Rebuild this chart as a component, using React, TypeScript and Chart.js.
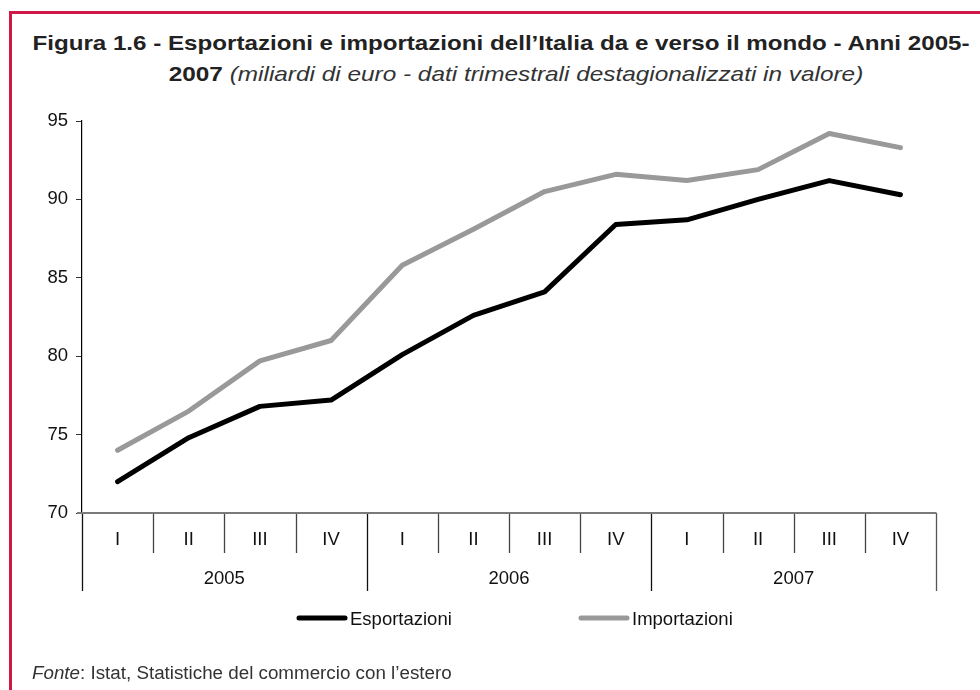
import React, { useEffect, useRef } from "react";
import { Chart, registerables } from "chart.js";

Chart.register(...registerables);

// ---- Data ----
const quarters = ["I", "II", "III", "IV", "I", "II", "III", "IV", "I", "II", "III", "IV"];
const years = ["2005", "2006", "2007"];
const quartersPerYear = 4;
const esportazioni = [72.0, 74.8, 76.8, 77.2, 80.1, 82.6, 84.1, 88.4, 88.7, 90.0, 91.2, 90.3];
const importazioni = [74.0, 76.5, 79.7, 81.0, 85.8, 88.1, 90.5, 91.6, 91.2, 91.9, 94.2, 93.3];
const seriesNames = ["Esportazioni", "Importazioni"];
const seriesColors = ["#000000", "#999999"];
const yMin = 70;
const yMax = 95;
const yStep = 5;

const FONT = "'Liberation Sans', Arial, Helvetica, sans-serif";
const LABEL_SIZE = 18.5;

const axisPlugin = {
  id: "multiLevelAxisAndLegend",
  afterDraw(chart: any) {
    const ctx = chart.ctx as CanvasRenderingContext2D;
    const x = chart.scales.x;
    const y = chart.scales.y;
    const y0 = y.getPixelForValue(yMin);
    const qBottom = y0 + 40;
    const yBottom = y0 + 78;
    const n = quarters.length;
    ctx.save();
    // boundaries
    for (let i = 0; i <= n; i++) {
      const bx = Math.round(x.getPixelForValue(i - 0.5)) + 0.5;
      const isYear = i % quartersPerYear === 0;
      ctx.beginPath();
      ctx.strokeStyle = isYear ? (i === n ? "#555" : "#111") : "#444";
      ctx.lineWidth = 1.3;
      ctx.moveTo(bx, y0);
      ctx.lineTo(bx, isYear ? yBottom : qBottom);
      ctx.stroke();
    }
    // x axis line
    ctx.beginPath();
    ctx.strokeStyle = "#7a7a7a";
    ctx.lineWidth = 2;
    ctx.moveTo(x.left - 5, y0);
    ctx.lineTo(x.right + 0.5, y0);
    ctx.stroke();
    // quarter labels
    ctx.fillStyle = "#111";
    ctx.font = `${LABEL_SIZE}px ${FONT}`;
    ctx.textAlign = "center";
    ctx.textBaseline = "middle";
    quarters.forEach((q, i) => {
      ctx.fillText(q, x.getPixelForValue(i), y0 + 27);
    });
    years.forEach((yr, j) => {
      const cx = x.getPixelForValue(j * quartersPerYear + (quartersPerYear - 1) / 2);
      ctx.fillText(yr, cx, y0 + 66);
    });
    // legend
    const legendY = y0 + 105;
    const legendX = [297, 579];
    chart.data.datasets.forEach((ds: any, i: number) => {
      const lx = legendX[i];
      ctx.beginPath();
      ctx.strokeStyle = ds.borderColor;
      ctx.lineWidth = 5;
      ctx.lineCap = "round";
      ctx.moveTo(lx + 2, legendY);
      ctx.lineTo(lx + 48, legendY);
      ctx.stroke();
      ctx.fillStyle = "#111";
      ctx.textAlign = "left";
      ctx.fillText(ds.label, lx + 53, legendY + 2);
    });
    ctx.restore();
  },
};

export default function App() {
  const ref = useRef<HTMLCanvasElement>(null);
  useEffect(() => {
    if (!ref.current) return;
    const chart = new Chart(ref.current, {
      type: "line",
      data: {
        labels: quarters.map((q, i) => `${q}-${years[Math.floor(i / quartersPerYear)]}`),
        datasets: [
          {
            label: seriesNames[0],
            data: esportazioni,
            borderColor: seriesColors[0],
            backgroundColor: seriesColors[0],
            borderWidth: 5,
            pointRadius: 0,
            tension: 0,
            borderCapStyle: "round",
            borderJoinStyle: "round",
          },
          {
            label: seriesNames[1],
            data: importazioni,
            borderColor: seriesColors[1],
            backgroundColor: seriesColors[1],
            borderWidth: 5,
            pointRadius: 0,
            tension: 0,
            borderCapStyle: "round",
            borderJoinStyle: "round",
          },
        ],
      },
      options: {
        animation: false,
        responsive: false,
        devicePixelRatio: 1,
        layout: { padding: { top: 121, right: 44, bottom: 177, left: 0 } },
        plugins: {
          legend: { display: false },
          tooltip: { enabled: false },
          title: { display: false },
        },
        scales: {
          x: {
            type: "category",
            display: false,
            offset: true,
          },
          y: {
            min: yMin,
            max: yMax,
            ticks: {
              stepSize: yStep,
              color: "#111",
              font: { family: FONT, size: LABEL_SIZE },
              padding: 8,
            },
            grid: {
              drawOnChartArea: false,
              tickLength: 6,
              color: "#333",
            },
            border: { display: true, color: "#000", width: 1.2 },
            afterFit: (scale: any) => {
              scale.width = 82;
            },
          },
        },
      },
      plugins: [axisPlugin],
    });
    return () => chart.destroy();
  }, []);

  return (
    <div
      style={{
        position: "absolute",
        left: 0,
        top: 0,
        width: 980,
        height: 690,
        overflow: "hidden",
        background: "#fff",
        fontFamily: FONT,
      }}
    >
      <div
        style={{
          position: "absolute",
          left: 9,
          top: 11,
          width: 1000,
          height: 700,
          borderLeft: "3px solid rgb(208,24,72)",
          borderTop: "3px solid rgb(208,24,72)",
        }}
      />
      <div
        style={{
          position: "absolute",
          left: 501,
          top: 29,
          whiteSpace: "nowrap",
          transform: "translateX(-50%) scaleX(1.15)",
          fontSize: 21,
          fontWeight: "bold",
          color: "#222",
          lineHeight: "28px",
        }}
      >
        Figura 1.6 - Esportazioni e importazioni dell’Italia da e verso il mondo - Anni 2005-
      </div>
      <div
        style={{
          position: "absolute",
          left: 516,
          top: 60,
          whiteSpace: "nowrap",
          transform: "translateX(-50%) scaleX(1.16)",
          fontSize: 21,
          color: "#333",
          lineHeight: "28px",
        }}
      >
        <b style={{ color: "#222" }}>2007</b> <i>(miliardi di euro - dati trimestrali destagionalizzati in valore)</i>
      </div>
      <canvas
        ref={ref}
        width={980}
        height={690}
        style={{ position: "absolute", left: 0, top: 0, width: 980, height: 690 }}
      />
      <div
        style={{
          position: "absolute",
          left: 32,
          top: 662,
          fontSize: 18.8,
          color: "#333",
          whiteSpace: "nowrap",
          lineHeight: "22px",
        }}
      >
        <i>Fonte</i>: Istat, Statistiche del commercio con l’estero
      </div>
    </div>
  );
}
